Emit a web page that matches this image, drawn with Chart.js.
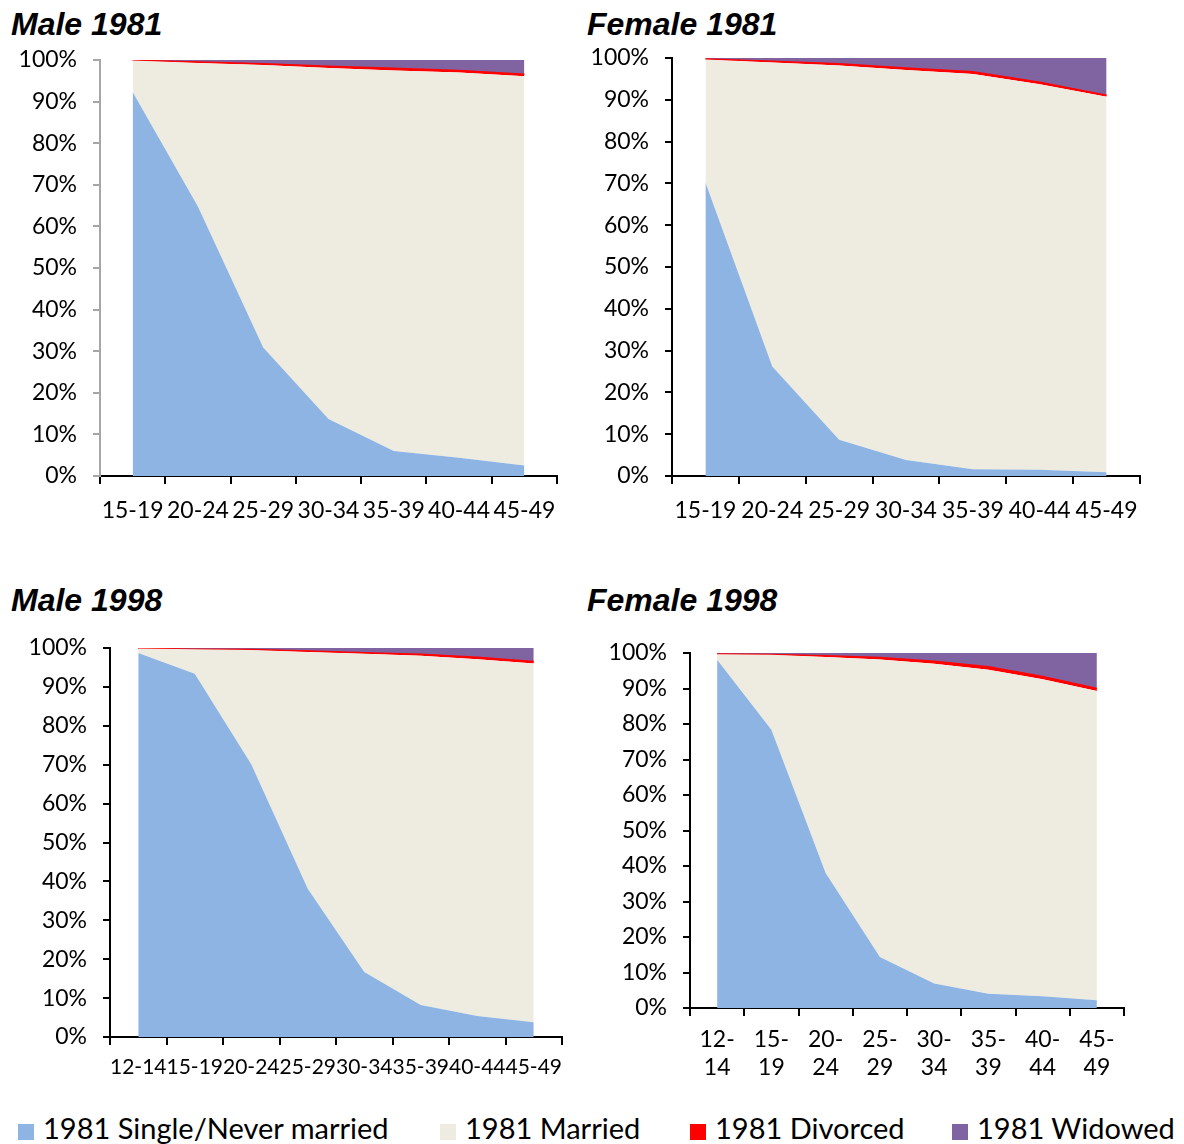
<!DOCTYPE html>
<html>
<head>
<meta charset="utf-8">
<script src="https://cdn.jsdelivr.net/npm/chart.js@4.4.1/dist/chart.umd.min.js"></script>
<style>
  body { margin: 0; background: #fff; width: 1184px; height: 1144px; position: relative; overflow: hidden; }
  .box { position: absolute; }
  .title { position: absolute; font-family: 'Liberation Sans', Arial, sans-serif; font-weight: bold; font-style: italic; font-size: 32px; line-height: 32px; color: #000; }
  .legend { position: absolute; font-family: Lato, sans-serif; font-size: 29px; line-height: 30px; color: #000; white-space: nowrap; }
  .legend span { display: inline-block; width: 16px; height: 16px; margin-right: 9px; vertical-align: -1px; }
</style>
</head>
<body>
<div class="title" style="left:11px; top:8px;">Male 1981</div>
<div class="title" style="left:587px; top:8px;">Female 1981</div>
<div class="title" style="left:11px; top:584px;">Male 1998</div>
<div class="title" style="left:587px; top:584px;">Female 1998</div>

<div class="box" style="left:0px; top:0px;"><canvas id="m81" width="580" height="540"></canvas></div>
<div class="box" style="left:576px; top:0px;"><canvas id="f81" width="600" height="540"></canvas></div>
<div class="box" style="left:0px; top:578px;"><canvas id="m98" width="580" height="510"></canvas></div>
<div class="box" style="left:576px; top:578px;"><canvas id="f98" width="600" height="510"></canvas></div>

<div class="legend" style="left:18px; top:1113px;"><span style="background:#8EB4E3"></span>1981 Single/Never married</div>
<div class="legend" style="left:440px; top:1113px;"><span style="background:#EEECE1"></span>1981 Married</div>
<div class="legend" style="left:690px; top:1113px;"><span style="background:#FF0000"></span>1981 Divorced</div>
<div class="legend" style="left:952px; top:1113px;"><span style="background:#8064A2"></span>1981 Widowed</div>

<script>
// age groups
var ages1981 = ['15-19', '20-24', '25-29', '30-34', '35-39', '40-44', '45-49'];
var ages1998 = ['12-14', '15-19', '20-24', '25-29', '30-34', '35-39', '40-44', '45-49'];
var ages1998Split = [['12-', '14'], ['15-', '19'], ['20-', '24'], ['25-', '29'], ['30-', '34'], ['35-', '39'], ['40-', '44'], ['45-', '49']];

var seriesNames = ['1981 Single/Never married', '1981 Married', '1981 Divorced', '1981 Widowed'];

// Male 1981 (%)
var maleSingle1981   = [92.3, 64.8, 30.9, 13.7, 6.0, 4.4, 2.5];
var maleMarried1981  = [7.6, 34.5, 67.9, 84.4, 91.5, 92.6, 93.6];
var maleDivorced1981 = [0.05, 0.2, 0.3, 0.4, 0.5, 0.5, 0.5];
var maleWidowed1981  = [0.05, 0.5, 0.9, 1.5, 2.0, 2.5, 3.4];

// Female 1981 (%)
var femaleSingle1981   = [70.2, 26.2, 8.7, 3.8, 1.6, 1.5, 0.9];
var femaleMarried1981  = [29.45, 72.7, 89.5, 93.3, 94.6, 92.2, 89.8];
var femaleDivorced1981 = [0.1, 0.3, 0.4, 0.5, 0.5, 0.5, 0.4];
var femaleWidowed1981  = [0.25, 0.8, 1.4, 2.4, 3.3, 5.8, 8.9];

// Male 1998 (%)
var maleSingle1998   = [98.7, 93.4, 70.1, 38.1, 16.7, 8.2, 5.4, 3.8];
var maleMarried1998  = [1.18, 6.25, 29.4, 60.9, 81.8, 89.8, 91.7, 92.2];
var maleDivorced1998 = [0.02, 0.05, 0.1, 0.2, 0.3, 0.4, 0.5, 0.5];
var maleWidowed1998  = [0.1, 0.3, 0.4, 0.8, 1.2, 1.6, 2.4, 3.5];

// Female 1998 (%)
var femaleSingle1998   = [98.1, 78.4, 38.0, 14.4, 6.9, 4.0, 3.3, 2.2];
var femaleMarried1998  = [1.55, 21.1, 60.9, 83.8, 90.1, 91.3, 89.3, 87.1];
var femaleDivorced1998 = [0.05, 0.1, 0.3, 0.5, 0.7, 0.8, 0.8, 0.7];
var femaleWidowed1998  = [0.3, 0.4, 0.8, 1.3, 2.3, 3.9, 6.6, 10.0];

var colors = ['#8EB4E3', '#EEECE1', '#FF0000', '#8064A2'];

function makeChart(id, labels, series, o) {
    var ctx = document.getElementById(id).getContext('2d');
    var datasets = series.map(function (vals, i) {
        return {
            label: seriesNames[i],
            data: vals,
            backgroundColor: colors[i],
            borderColor: colors[i],
            borderWidth: i === 2 ? 1.5 : 0,
            pointRadius: 0,
            tension: 0,
            fill: i === 0 ? 'origin' : '-1'
        };
    });
    return new Chart(ctx, {
        type: 'line',
        data: { labels: labels, datasets: datasets },
        options: {
            responsive: false,
            animation: false,
            devicePixelRatio: 1,
            layout: { padding: { top: o.top, left: 0, right: o.right, bottom: 0 } },
            plugins: { legend: { display: false }, title: { display: false }, tooltip: { enabled: false } },
            scales: {
                x: {
                    offset: true,
                    grid: { offset: true, drawOnChartArea: false, drawTicks: true, tickLength: 8, color: '#000', lineWidth: 2 },
                    border: { display: true, color: '#000', width: 2 },
                    ticks: { autoSkip: false, maxRotation: 0, minRotation: 0, color: '#000',
                        font: { family: 'Lato, sans-serif', size: o.xSize, lineHeight: 1.2 }, padding: o.xPad },
                    afterFit: function (s) { s.height = o.xh; }
                },
                y: {
                    stacked: true,
                    min: 0,
                    max: 100,
                    grid: { drawOnChartArea: false, drawTicks: true, tickLength: 7, color: o.yColor, lineWidth: 2 },
                    border: { display: true, color: o.yColor, width: 2 },
                    ticks: { stepSize: 10, color: '#000', font: { family: 'Lato, sans-serif', size: 23 }, padding: 16,
                        callback: function (v) { return v + '%'; } },
                    afterFit: function (s) { s.width = o.yw; }
                }
            }
        }
    });
}

makeChart('m81', ages1981, [maleSingle1981, maleMarried1981, maleDivorced1981, maleWidowed1981],
    { top: 60, right: 23, yw: 100, xh: 64, xPad: 13, xSize: 23, yColor: '#a6a6a6' });
makeChart('f81', ages1981, [femaleSingle1981, femaleMarried1981, femaleDivorced1981, femaleWidowed1981],
    { top: 58, right: 36, yw: 96, xh: 64, xPad: 13, xSize: 23, yColor: '#000' });
makeChart('m98', ages1998, [maleSingle1998, maleMarried1998, maleDivorced1998, maleWidowed1998],
    { top: 70, right: 18, yw: 110, xh: 51, xPad: 10, xSize: 21, yColor: '#000' });
makeChart('f98', ages1998Split, [femaleSingle1998, femaleMarried1998, femaleDivorced1998, femaleWidowed1998],
    { top: 75, right: 52, yw: 114, xh: 80, xPad: 10, xSize: 23, yColor: '#000' });
</script>
</body>
</html>
